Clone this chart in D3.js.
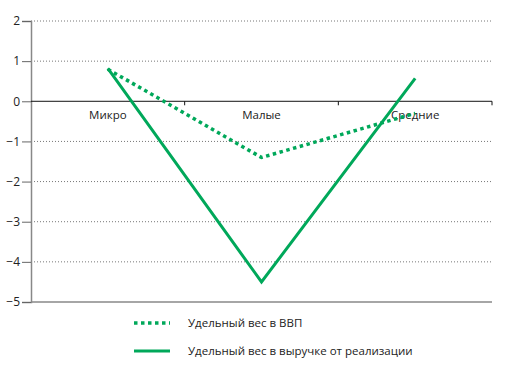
<!DOCTYPE html>
<html>
<head>
<meta charset="utf-8">
<script src="https://cdn.jsdelivr.net/npm/d3@7"></script>
<style>
  body { margin: 0; background: #fff; }
  text { font-family: "Open Sans", "DejaVu Sans", sans-serif; }
</style>
</head>
<body>
<svg id="chart" width="518" height="365"></svg>
<script>
// categories and series
const categories = ["Микро", "Малые", "Средние"];
const gdpShare = [0.8, -1.4, -0.3];          // dotted
const revenueShare = [0.82, -4.5, 0.57];      // solid
const yTicks = [2, 1, 0, -1, -2, -3, -4, -5];
const seriesNames = ["Удельный вес в ВВП", "Удельный вес в выручке от реализации"];

const GREEN = "#00a85a";
const svg = d3.select("#chart");
const plotLeft = 31, plotRight = 492, plotTop = 21, plotBottom = 302;

const x = d3.scaleBand().domain(categories).range([plotLeft, plotRight]);
const y = d3.scaleLinear().domain([-5, 2]).range([plotBottom, plotTop]);

// dotted grid
svg.append("g")
  .selectAll("line")
  .data(yTicks.filter(d => d !== 0 && d !== -5))
  .join("line")
  .attr("x1", plotLeft).attr("x2", plotRight)
  .attr("y1", d => y(d)).attr("y2", d => y(d))
  .attr("stroke", "#777").attr("stroke-width", 1)
  .attr("stroke-dasharray", "1 2");

// y axis
const yAxis = d3.axisLeft(y).tickValues(yTicks).tickSize(9).tickPadding(2)
  .tickFormat(d => d < 0 ? "\u2212" + Math.abs(d) : d);
const ga = svg.append("g").attr("transform", `translate(${plotLeft},0)`).call(yAxis);
ga.select(".domain").attr("stroke", "#888").attr("stroke-width", 1.5);
ga.selectAll(".tick line").attr("stroke", "#666");
ga.selectAll(".tick text").attr("fill", "#222").style("font-size", "12px");

// bottom line at -5
svg.append("line")
  .attr("x1", plotLeft).attr("x2", plotRight)
  .attr("y1", y(-5)).attr("y2", y(-5))
  .attr("stroke", "#888").attr("stroke-width", 1.5);

// zero line with category axis
const xAxis = d3.axisBottom(x).tickSize(0).tickPadding(10);
const gx = svg.append("g").attr("transform", `translate(0,${y(0)})`).call(xAxis);
gx.select(".domain").remove();
gx.selectAll(".tick text").attr("fill", "#222").style("font-size", "11.5px");
svg.append("line")
  .attr("x1", plotLeft).attr("x2", plotRight)
  .attr("y1", y(0)).attr("y2", y(0))
  .attr("stroke", "#111").attr("stroke-width", 1);
svg.append("g").selectAll("line")
  .data(categories.slice(1).map(c => x(c)).concat([plotRight]))
  .join("line")
  .attr("x1", d => d).attr("x2", d => d)
  .attr("y1", y(0)).attr("y2", y(0) + 4)
  .attr("stroke", "#111");

const line = d3.line()
  .x((d, i) => x(categories[i]) + x.bandwidth() / 2)
  .y(d => y(d));

svg.append("path").datum(gdpShare)
  .attr("d", line).attr("fill", "none")
  .attr("stroke", GREEN).attr("stroke-width", 3.5)
  .attr("stroke-dasharray", "3.5 3.5");

svg.append("path").datum(revenueShare)
  .attr("d", line).attr("fill", "none")
  .attr("stroke", GREEN).attr("stroke-width", 3);

// legend
const leg = svg.append("g");
const rows = [{ dash: "3.5 3.5", w: 3.5, yy: 323 }, { dash: null, w: 3, yy: 351 }];
rows.forEach((r, i) => {
  leg.append("line")
    .attr("x1", 134).attr("x2", 170)
    .attr("y1", r.yy).attr("y2", r.yy)
    .attr("stroke", GREEN).attr("stroke-width", r.w)
    .attr("stroke-dasharray", r.dash);
  leg.append("text")
    .attr("x", 188).attr("y", r.yy).attr("dy", "0.35em")
    .attr("fill", "#222").style("font-size", "11.5px")
    .text(seriesNames[i]);
});
</script>
</body>
</html>
